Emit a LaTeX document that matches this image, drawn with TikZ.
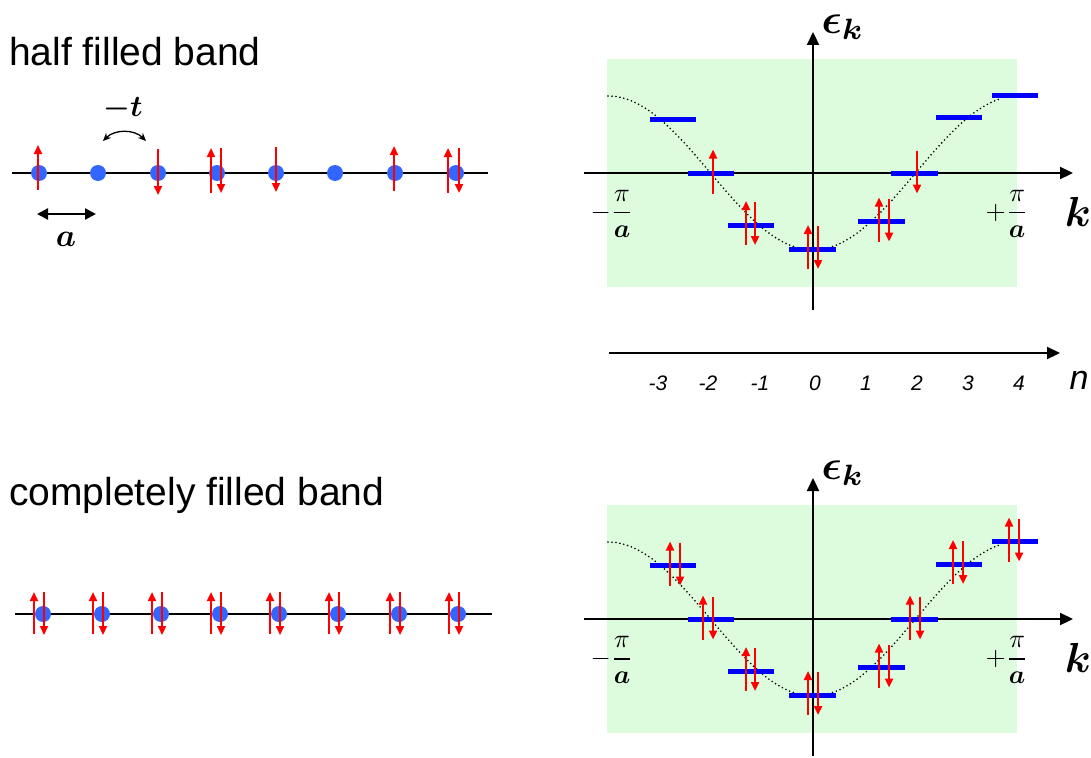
\documentclass[tikz,border=0pt]{standalone}
\usepackage{amsmath,bm}
\usepackage[no-math]{fontspec}
\setmainfont{Liberation Sans}
\usetikzlibrary{arrows.meta}
\definecolor{dotblue}{RGB}{51,102,255}
\definecolor{bandgreen}{RGB}{221,252,221}
\definecolor{levelblue}{RGB}{0,0,255}
\definecolor{spinred}{RGB}{255,0,0}
\newcommand\spinup[2]{\draw[spin] (#1,#2+20) -- (#1,#2-24);}
\newcommand\spindn[2]{\draw[spin] (#1,#2-23) -- (#1,#2+20);}
\newcommand\bandpanel{%
  \fill[bandgreen] (607,59) rectangle (1017,287);
  \coordinate (kL) at (584,173);
  \coordinate (kR) at (1073,173);
  \coordinate (eB) at (813,310);
  \coordinate (eT) at (813,32);
  \draw[axis] (kL) -- (kR);
  \draw[axis] (eB) -- (eT);
  \draw[cosdot] plot[domain=608:1000,samples=100,smooth] (\x,{173+77*cos(0.87805*(\x-813))});
  \foreach \nm/\xa/\xb/\yy in {m3/650/696/119.5, m2/688/734/173.5, m1/728/774/225, z0/789/836/249, p1/858/905/221.5, p2/891/938/173.5, p3/936/982/118, p4/992/1038/95.5}
    {\coordinate (\nm a) at (\xa,\yy); \coordinate (\nm b) at (\xb,\yy); \draw[level] (\nm a) -- (\nm b);}
  \node[mathlbl] (eps) at (843,27) {\scalebox{4.2}{$\bm{\epsilon}_{\bm{k}}$}};
  \node[mathlbl] (klab) at (1078,212) {\scalebox{4.2}{$\bm{k}$}};
  \node[mathlbl] (kmin) at (612,214) {\scalebox{2.6}{$-\dfrac{\pi}{\bm{a}}$}};
  \node[mathlbl] (kmax) at (1007,214) {\scalebox{2.6}{$+\dfrac{\pi}{\bm{a}}$}};
}
\begin{document}
\begin{tikzpicture}[x=1pt,y=-1pt,
  spin/.style={draw=spinred,line width=2.2pt,-{Triangle[length=9pt,width=8pt]}},
  site/.style={circle,fill=dotblue,inner sep=0pt,minimum size=16pt},
  level/.style={draw=levelblue,line width=5pt},
  axis/.style={draw=black,line width=2.2pt,-{Triangle[length=13pt,width=12pt]}},
  chain/.style={draw=black,line width=2pt},
  cosdot/.style={draw=black,line width=1.8pt,line cap=round,dash pattern=on 0pt off 4pt},
  titletext/.style={font=\fontsize{39}{45}\selectfont,anchor=west,inner sep=0pt},
  mathlbl/.style={inner sep=0pt},
  nlbl/.style={font=\fontsize{21}{25}\selectfont\itshape,inner sep=0pt}]
\useasboundingbox (0,0) rectangle (1091,757);

% ---------- titles ----------
\node[titletext] (t1) at (9,52) {half filled band};
\node[titletext] (t2) at (9,495) {completely filled band};

% ---------- half filled chain ----------
\coordinate (c1L) at (12,173);
\coordinate (c1R) at (488,173);
\draw[chain] (c1L) -- (c1R);
\foreach \i/\xx in {1/39,2/98,3/158,4/217,5/276,6/335,7/395,8/456}
  \node[site] (h\i) at (\xx,173) {};
\draw[spin] (38,190) -- (38,145);
\draw[spin] (158,149) -- (158,195);
\draw[spin] (211,193) -- (211,148);
\draw[spin] (221,148) -- (221,193);
\draw[spin] (276,147) -- (276,192);
\draw[spin] (394,191) -- (394,146);
\draw[spin] (448,193) -- (448,148);
\draw[spin] (459,148) -- (459,193);
% hopping
\coordinate (hopA) at (103,141);
\coordinate (hopB) at (146,141);
\draw[{Stealth[length=8pt,width=7pt]}-{Stealth[length=8pt,width=7pt]},line width=1.3pt] (hopA) to[bend left=45] (hopB);
\node[mathlbl] (tlab) at (123,109) {\scalebox{3.0}{$\bm{-t}$}};
% lattice constant
\coordinate (aA) at (37,214);
\coordinate (aB) at (96,214);
\draw[line width=2.2pt,{Triangle[length=11pt,width=11pt]}-{Triangle[length=11pt,width=11pt]}] (aA) -- (aB);
\node[mathlbl] (alab) at (66,239) {\scalebox{3.2}{$\bm{a}$}};

% ---------- completely filled chain ----------
\coordinate (c2L) at (15,614);
\coordinate (c2R) at (492,614);
\draw[chain] (c2L) -- (c2R);
\foreach \i/\xx in {1/43,2/102,3/161,4/220,5/279,6/338,7/399,8/458}
  {\node[site] (f\i) at (\xx,614) {};
   \draw[spin] (\xx-9,634) -- (\xx-9,592);
   \draw[spin] (\xx+1,592) -- (\xx+1,635);}

% ---------- top band panel ----------
\begin{scope}[name prefix=top-]
\bandpanel
\spinup{713}{173.5}
\spinup{746}{225}\spindn{755}{225}
\spinup{808}{249}\spindn{818}{249}
\spinup{879}{221.5}\spindn{889}{221.5}
\spindn{917}{173.5}
\end{scope}

% ---------- n axis ----------
\coordinate (nL) at (609,353);
\coordinate (nR) at (1060,353);
\draw[axis] (nL) -- (nR);
\foreach \lab/\xx in {-3/658,-2/708,-1/760,0/815,1/866,2/917,3/968,4/1019}
  \node[nlbl] (n\xx) at (\xx,383) {\lab};
\node[font=\fontsize{34}{40}\selectfont\itshape,inner sep=0pt] (nlab) at (1079,380) {n};

% ---------- bottom band panel ----------
\begin{scope}[shift={(0,446)},name prefix=bot-]
\bandpanel
\spinup{670}{119.5}\spindn{680}{119.5}
\spinup{703}{173.5}\spindn{713}{173.5}
\spinup{746}{225}\spindn{755}{225}
\spinup{808}{249}\spindn{818}{249}
\spinup{879}{221.5}\spindn{889}{221.5}
\spinup{910}{173.5}\spindn{920}{173.5}
\spinup{953}{118}\spindn{963}{118}
\spinup{1009}{95.5}\spindn{1019}{95.5}
\end{scope}
\end{tikzpicture}
\end{document}
